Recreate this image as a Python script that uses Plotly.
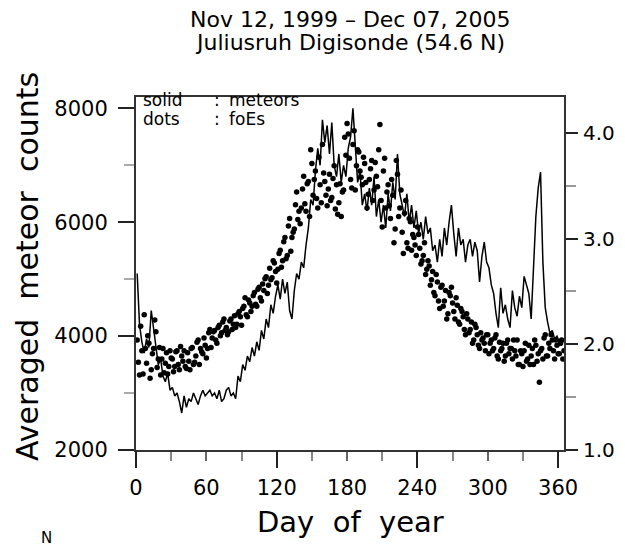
import plotly.graph_objects as go

# ---------------- data ----------------
meteor_days = list(range(1, 366, 2))
meteor_counts = [
    5100, 4200, 3900, 3700, 3950, 3800, 4450, 4100, 3750, 3500,   # d1-19
    3600, 3300, 3200, 3350, 3050, 3100, 2950, 3000, 2850, 2650,   # d21-39
    2950, 2750, 2900, 2850, 3000, 2900, 2800, 2950, 3050, 2950,   # d41-59
    3000, 3050, 2950, 3000, 2900, 3050, 2850, 2900, 3050, 3100,   # d61-79
    2950, 3000, 2900, 3300, 3200, 3500, 3400, 3650, 3550, 3800,   # d81-99
    3650, 3900, 3750, 4100, 3950, 4300, 4150, 4550, 4400, 4700,   # d101-119
    4900, 4650, 5000, 4750, 4950, 4450, 4300, 4800, 5100, 5000,   # d121-139
    5300, 5200, 5600, 5900, 6400, 6300, 6900, 7300, 7000, 7800,   # d141-159
    7400, 7700, 7200, 7750, 7000, 6800, 7200, 6700, 7000, 6800,   # d161-179
    7300, 7500, 8000, 7400, 6700, 6900, 6300, 6500, 6200, 6600,   # d181-199
    6300, 6800, 6100, 6400, 6000, 6300, 5900, 6500, 6200, 6700,   # d201-219
    6400, 7200, 6500, 6300, 6100, 6500, 6000, 6300, 5900, 6200,   # d221-239
    5800, 6000, 5700, 6100, 5800, 5900, 5500, 5600, 5300, 5700,   # d241-259
    5400, 5900, 5600, 6000, 6300, 5800, 5400, 5900, 5600, 5700,   # d261-279
    5300, 5600, 5700, 5400, 5650, 5500, 4950, 5400, 5650, 5300,   # d281-299
    5200, 4900, 4750, 4400, 4150, 4850, 4400, 4550, 4300, 4150,   # d301-319
    4800, 4500, 4350, 4700, 4500, 5050, 4900, 4750, 4300, 5100,   # d321-339
    6100, 6600, 6880, 5300, 4500, 4250, 4050, 4100, 3950, 4000,   # d341-359
    3900, 3850, 3950,                                             # d361-365
]

foes_even_days = list(range(2, 365, 2))
foes_even = [
    1.83, 2.17, 1.72, 1.96, 2.08, 1.68, 1.91, 2.23, 1.78, 1.97,   # d2-20
    1.86, 1.73, 1.92, 1.79, 1.87, 1.74, 1.93, 1.81, 1.98, 1.84,   # d22-40
    1.79, 1.92, 1.76, 1.97, 1.83, 2.02, 1.81, 1.93, 2.06, 1.87,   # d42-60
    2.11, 1.97, 2.12, 2.04, 2.16, 2.08, 2.21, 2.13, 2.09, 2.22,   # d62-80
    2.14, 2.27, 2.19, 2.31, 2.18, 2.36, 2.28, 2.42, 2.31, 2.46,   # d82-100
    2.38, 2.52, 2.44, 2.57, 2.62, 2.48, 2.72, 2.63, 2.77, 2.58,   # d102-120
    2.86, 2.73, 2.97, 2.81, 3.12, 2.88, 3.06, 3.32, 3.18, 3.14,   # d122-140
    3.47, 3.33, 3.52, 3.21, 3.71, 3.56, 3.38, 3.77, 3.34, 3.62,   # d142-160
    3.41, 3.47, 3.36, 3.57, 3.28, 3.23, 3.52, 3.44, 3.96, 4.09,   # d162-180
    3.76, 3.48, 4.02, 3.69, 3.82, 3.58, 3.77, 3.53, 3.42, 3.66,   # d182-200
    3.36, 3.72, 3.49, 4.08, 3.11, 3.76, 3.44, 3.31, 3.56, 2.96,   # d202-220
    3.74, 3.21, 3.46, 2.86, 3.36, 2.91, 3.16, 3.04, 2.94, 3.11,   # d222-240
    2.91, 2.79, 2.96, 2.71, 2.74, 2.61, 2.49, 2.66, 2.41, 2.54,   # d242-260
    2.36, 2.51, 2.29, 2.46, 2.39, 2.24, 2.37, 2.19, 2.31, 2.14,   # d262-280
    2.29, 2.11, 2.21, 2.04, 2.16, 1.99, 2.11, 2.06, 1.94, 2.09,   # d282-300
    2.01, 1.94, 2.06, 1.89, 2.02, 1.96, 1.84, 2.01, 1.91, 1.96,   # d302-320
    2.04, 1.89, 1.81, 1.94, 1.79, 2.01, 1.86, 1.81, 1.96, 2.04,   # d322-340
    1.84, 1.64, 1.96, 2.06, 1.89, 2.01, 2.09, 1.94, 2.04, 1.91,   # d342-360
    2.01, 1.86,                                                   # d362-364
]

foes_odd_days = list(range(1, 366, 2))
foes_odd = [
    2.04, 1.71, 1.94, 2.28, 1.82, 2.01, 1.76, 1.96, 2.12, 1.86,   # d1-19
    1.71, 1.96, 1.82, 1.72, 1.94, 1.86, 1.79, 1.94, 1.76, 1.89,   # d21-39
    1.94, 1.77, 1.84, 1.96, 1.81, 1.89, 2.04, 1.96, 1.91, 1.99,   # d41-59
    1.96, 2.14, 2.06, 2.13, 2.01, 2.18, 2.11, 2.24, 2.16, 2.12,   # d61-79
    2.24, 2.19, 2.16, 2.29, 2.26, 2.34, 2.44, 2.26, 2.39, 2.36,   # d81-99
    2.49, 2.36, 2.54, 2.41, 2.51, 2.64, 2.56, 2.61, 2.79, 2.69,   # d101-119
    2.71, 2.89, 2.79, 3.01, 2.84, 3.19, 3.01, 3.09, 3.44, 3.26,   # d121-139
    3.29, 3.59, 3.26, 3.54, 3.84, 3.41, 3.64, 3.29, 3.51, 3.89,   # d141-159
    3.54, 3.31, 3.61, 3.39, 3.69, 3.51, 3.34, 3.21, 3.46, 3.79,   # d161-179
    3.99, 3.56, 3.89, 3.46, 3.84, 3.64, 3.51, 3.71, 3.29, 3.56,   # d181-199
    3.74, 3.46, 3.59, 3.84, 3.36, 3.64, 3.29, 3.51, 3.19, 3.41,   # d201-219
    3.09, 3.61, 3.29, 3.06, 3.24, 2.96, 3.19, 2.89, 3.01, 2.84,   # d221-239
    3.04, 2.76, 2.84, 2.66, 2.79, 2.56, 2.69, 2.46, 2.59, 2.34,   # d241-259
    2.56, 2.41, 2.24, 2.49, 2.54, 2.31, 2.44, 2.21, 2.34, 2.26,   # d261-279
    2.09, 2.24, 2.14, 2.01, 2.19, 2.09, 1.96, 2.04, 2.01, 2.09,   # d281-299
    1.91, 2.04, 1.96, 2.09, 1.86, 1.94, 2.01, 1.89, 2.04, 1.96,   # d301-319
    1.86, 1.94, 2.04, 1.81, 1.91, 1.94, 1.84, 1.99, 1.89, 1.81,   # d321-339
    1.99, 1.91, 1.94, 1.86, 2.09, 1.89, 1.96, 2.04, 1.86, 1.99,   # d341-359
    1.91, 2.04, 1.94,                                             # d361-365
]

x_tick_vals = [0, 60, 120, 180, 240, 300, 360]
x_major_vals = [0, 120, 240, 360]
y_tick_vals = [2000, 4000, 6000, 8000]
y2_tick_vals = [1.0, 2.0, 3.0, 4.0]
y2_tick_text = ["1.0", "2.0", "3.0", "4.0"]

title_1 = "Nov 12, 1999 \u2013 Dec 07, 2005"
title_2 = "Juliusruh Digisonde (54.6 N)"
y_title = "Averaged  meteor  counts"
x_title = "Day  of  year"

# ---------------- figure ----------------
FONT = "DejaVu Sans"
AX = "#333333"
OFF = 8  # default page body margin (px)

fig = go.Figure()
fig.add_trace(go.Scatter(
    x=meteor_days, y=meteor_counts, mode="lines",
    line=dict(color="black", width=1.5), yaxis="y", xaxis="x",
    showlegend=False, hoverinfo="skip"))
fig.add_trace(go.Scatter(
    x=foes_even_days + foes_odd_days, y=foes_even + foes_odd, mode="markers",
    marker=dict(color="black", size=5.5), yaxis="y2", xaxis="x",
    showlegend=False, hoverinfo="skip"))
# empty trace so that the second x axis (long major ticks) is drawn
fig.add_trace(go.Scatter(x=[None], y=[None], xaxis="x2", yaxis="y",
                         showlegend=False, hoverinfo="skip"))

fig.update_layout(
    width=625 - OFF, height=549 - OFF,
    margin=dict(l=136 - OFF, r=61, t=97 - OFF, b=99, autoexpand=False),
    paper_bgcolor="white", plot_bgcolor="white",
    font=dict(family=FONT, color="black"),
    xaxis=dict(
        range=[0, 365], showgrid=False, zeroline=False,
        showline=True, linecolor=AX, linewidth=2, mirror=True,
        tickvals=x_tick_vals, ticks="outside", ticklen=9, tickwidth=1.5,
        tickcolor="#666666", ticklabelstandoff=9,
        minor=dict(dtick=30, tick0=0, ticks="outside", ticklen=9,
                   tickcolor="#888888", tickwidth=1.5),
        tickfont=dict(size=21, family=FONT),
    ),
    xaxis2=dict(
        range=[0, 365], overlaying="x", matches="x", showgrid=False,
        zeroline=False, showline=False, tickvals=x_major_vals,
        ticks="outside", ticklen=17, tickwidth=1.8, tickcolor="#222222",
        showticklabels=False, side="bottom",
    ),
    yaxis=dict(
        range=[2000, 8200], showgrid=False, zeroline=False,
        showline=True, linecolor=AX, linewidth=2,
        tickvals=y_tick_vals, ticks="outside", ticklen=16, tickwidth=1.8,
        tickcolor="#222222", ticklabelstandoff=6,
        minor=dict(dtick=1000, tick0=0, ticks="outside", ticklen=10,
                   tickcolor="#aaaaaa", tickwidth=2),
        tickfont=dict(size=21, family=FONT),
    ),
    yaxis2=dict(
        range=[1.0, 4.34], overlaying="y", side="right", showgrid=False,
        zeroline=False, showline=True, linecolor=AX, linewidth=2,
        tickvals=y2_tick_vals, ticktext=y2_tick_text,
        ticks="outside", ticklen=12, tickwidth=1.8, tickcolor="#222222",
        ticklabelstandoff=1,
        minor=dict(dtick=0.5, tick0=0, ticks="outside", ticklen=10,
                   tickcolor="#999999", tickwidth=2),
        tickfont=dict(size=20, family=FONT),
    ),
)


def px_x(p):
    return (p - 136) / 428


def px_y(p):
    return (450 - p) / 353


ann = []
ann.append(dict(text=title_1, x=0.5, y=px_y(19), xref="paper", yref="paper",
                showarrow=False, font=dict(size=22, family=FONT),
                xanchor="center", yanchor="middle"))
ann.append(dict(text=title_2, x=0.5, y=px_y(43), xref="paper", yref="paper",
                showarrow=False, font=dict(size=22, family=FONT),
                xanchor="center", yanchor="middle"))
ann.append(dict(text=y_title, x=px_x(27), y=px_y(267),
                xref="paper", yref="paper", textangle=-90, showarrow=False,
                font=dict(size=30, family=FONT), xanchor="center",
                yanchor="middle"))
ann.append(dict(text=x_title, x=px_x(350), y=px_y(522), xref="paper",
                yref="paper", showarrow=False, font=dict(size=29, family=FONT),
                xanchor="center", yanchor="middle"))
ann.append(dict(text="N", x=px_x(46), y=px_y(538), xref="paper",
                yref="paper", showarrow=False, font=dict(size=15, family=FONT),
                xanchor="center", yanchor="middle"))
for lab, xp, yp in [("solid", 141, 100), (":", 212, 100), ("meteors", 227, 100),
                    ("dots", 141, 119), (":", 212, 119), ("foEs", 227, 119)]:
    ann.append(dict(text=lab, x=px_x(xp), y=px_y(yp),
                    xref="paper", yref="paper", showarrow=False,
                    font=dict(size=17, family=FONT), xanchor="left",
                    yanchor="middle"))
fig.update_layout(annotations=ann)

fig.write_html("out.html")
